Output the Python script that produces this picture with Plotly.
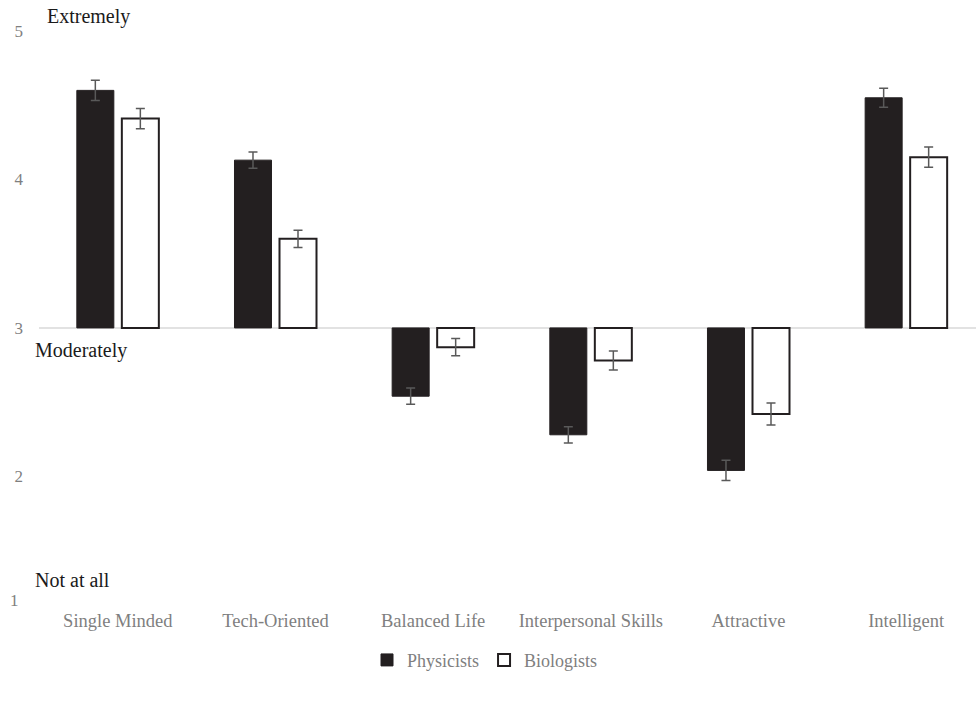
import plotly.graph_objects as go

# Ratings on a 1-5 scale; bars are drawn from the neutral midpoint (3)
categories = ["Single Minded", "Tech-Oriented", "Balanced Life",
              "Interpersonal Skills", "Attractive", "Intelligent"]
physicists = [4.60, 4.13, 2.54, 2.28, 2.04, 4.55]
biologists = [4.41, 3.60, 2.87, 2.78, 2.42, 4.15]
physicists_err = [0.068, 0.055, 0.055, 0.055, 0.068, 0.064]
biologists_err = [0.068, 0.058, 0.058, 0.064, 0.074, 0.068]
midpoint = 3
y_ticks = [2, 3, 4, 5]

serif = "Liberation Serif, Times New Roman, serif"
ink = "#231f20"
grey_text = "#7f7f7f"

# plot-area geometry in pixels, used to place the free text labels
left_px, plot_w = 39.4, 936.6
top_px, bottom_px = 31.0, 606.8


def px_to_paper_x(px):
    return (px - left_px) / plot_w


def px_to_paper_y(py):
    return (bottom_px - py) / (bottom_px - top_px)


fig = go.Figure()
fig.add_trace(go.Bar(
    name="Physicists", x=categories,
    y=[v - midpoint for v in physicists], base=midpoint,
    marker=dict(color=ink, line=dict(color=ink, width=1)),
    error_y=dict(type="data", array=physicists_err, color="#595959",
                 thickness=1.5, width=4.5),
))
fig.add_trace(go.Bar(
    name="Biologists", x=categories,
    y=[v - midpoint for v in biologists], base=midpoint,
    marker=dict(color="white", line=dict(color=ink, width=2)),
    error_y=dict(type="data", array=biologists_err, color="#595959",
                 thickness=1.5, width=4.5),
))

# horizontal baseline at the midpoint
fig.add_shape(type="line", xref="paper", x0=0, x1=1, yref="y",
              y0=midpoint, y1=midpoint, layer="below",
              line=dict(color="#d9d9d9", width=1.5))

# scale anchor labels
for text, py, px in [("Extremely", 17, 45), ("Moderately", 350, 33),
                     ("Not at all", 580, 33)]:
    fig.add_annotation(text=text, xref="paper", x=px_to_paper_x(px),
                       xanchor="left", yref="paper", y=px_to_paper_y(py),
                       yanchor="middle", showarrow=False,
                       font=dict(family=serif, size=20, color="#1a1a1a"))
fig.add_annotation(text="1", xref="paper", x=px_to_paper_x(21),
                   xanchor="right", yref="paper", y=px_to_paper_y(600),
                   yanchor="middle", showarrow=False,
                   font=dict(family=serif, size=17, color=grey_text))

fig.update_layout(
    width=976, height=702,
    margin=dict(l=39, r=0, t=31, b=95),
    paper_bgcolor="white", plot_bgcolor="white",
    barmode="group", bargap=0.429, bargroupgap=0.178,
    font=dict(family=serif, color=grey_text),
    showlegend=True,
    legend=dict(orientation="h", x=0.476, xanchor="center",
                y=px_to_paper_y(660), yanchor="middle",
                font=dict(family=serif, size=18, color=grey_text),
                itemwidth=30, traceorder="normal"),
    xaxis=dict(range=[-0.5, 5.443], showgrid=False, zeroline=False,
               showline=False, ticks="",
               tickfont=dict(family=serif, size=18.5, color=grey_text)),
    yaxis=dict(range=[1.12, 5], tickvals=y_ticks, showgrid=False,
               zeroline=False, showline=False, ticks="",
               ticklabelstandoff=15,
               tickfont=dict(family=serif, size=17, color=grey_text)),
)

fig.write_html("out.html")
